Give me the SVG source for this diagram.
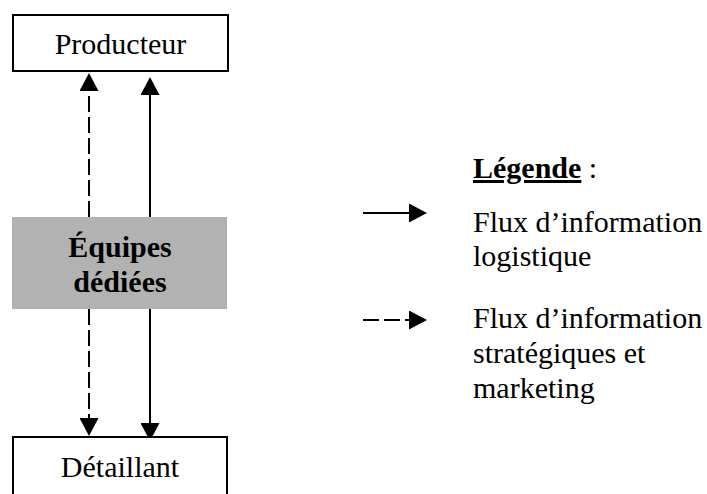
<svg xmlns="http://www.w3.org/2000/svg" width="707" height="494" viewBox="0 0 707 494">
<style>
.box{fill:#fff;stroke:#000;stroke-width:2}
.gray{fill:#b2b2b2;stroke:none}
.t{font-family:"Liberation Serif","Times New Roman",serif;font-size:30px;fill:#000}
.b{font-weight:bold}
.c{text-anchor:middle}
.ln{stroke:#000;stroke-width:2;fill:none}
.dash{stroke-dasharray:16 5}
</style>
<defs>
<marker id="ah" viewBox="0 0 18 19" markerWidth="18" markerHeight="19" refX="2" refY="9.5" orient="auto" markerUnits="userSpaceOnUse">
<path d="M0,0 L18,9.5 L0,19 z" fill="#000"/>
</marker>
</defs>
<g id="connectors">
<line class="ln dash" x1="89" y1="217" x2="89" y2="89" marker-end="url(#ah)"/>
<line class="ln" x1="150" y1="217" x2="150" y2="93" marker-end="url(#ah)"/>
<line class="ln dash" x1="89" y1="309" x2="89" y2="420" marker-end="url(#ah)"/>
<line class="ln" x1="150" y1="309" x2="150" y2="425" marker-end="url(#ah)"/>
</g>
<g id="producteur">
<rect class="box" x="13" y="15" width="215" height="56"/>
<text class="t c" x="120.5" y="54">Producteur</text>
</g>
<g id="equipes">
<rect class="gray" x="12" y="217" width="215" height="92"/>
<text class="t b c" x="120" y="257">Équipes</text>
<text class="t b c" x="120" y="292">dédiées</text>
</g>
<g id="detaillant">
<rect class="box" x="13" y="437" width="214" height="70"/>
<text class="t c" x="120" y="477">Détaillant</text>
</g>
<g id="legende">
<text class="t" x="473" y="178"><tspan class="b" text-decoration="underline">Légende</tspan> :</text>
<line class="ln" x1="363" y1="213" x2="411" y2="213" marker-end="url(#ah)"/>
<text class="t" x="473" y="232">Flux d’information</text>
<text class="t" x="473" y="266">logistique</text>
<line class="ln dash" x1="363" y1="320" x2="411" y2="320" marker-end="url(#ah)"/>
<text class="t" x="473" y="328">Flux d’information</text>
<text class="t" x="473" y="363">stratégiques et</text>
<text class="t" x="473" y="398">marketing</text>
</g>
</svg>
